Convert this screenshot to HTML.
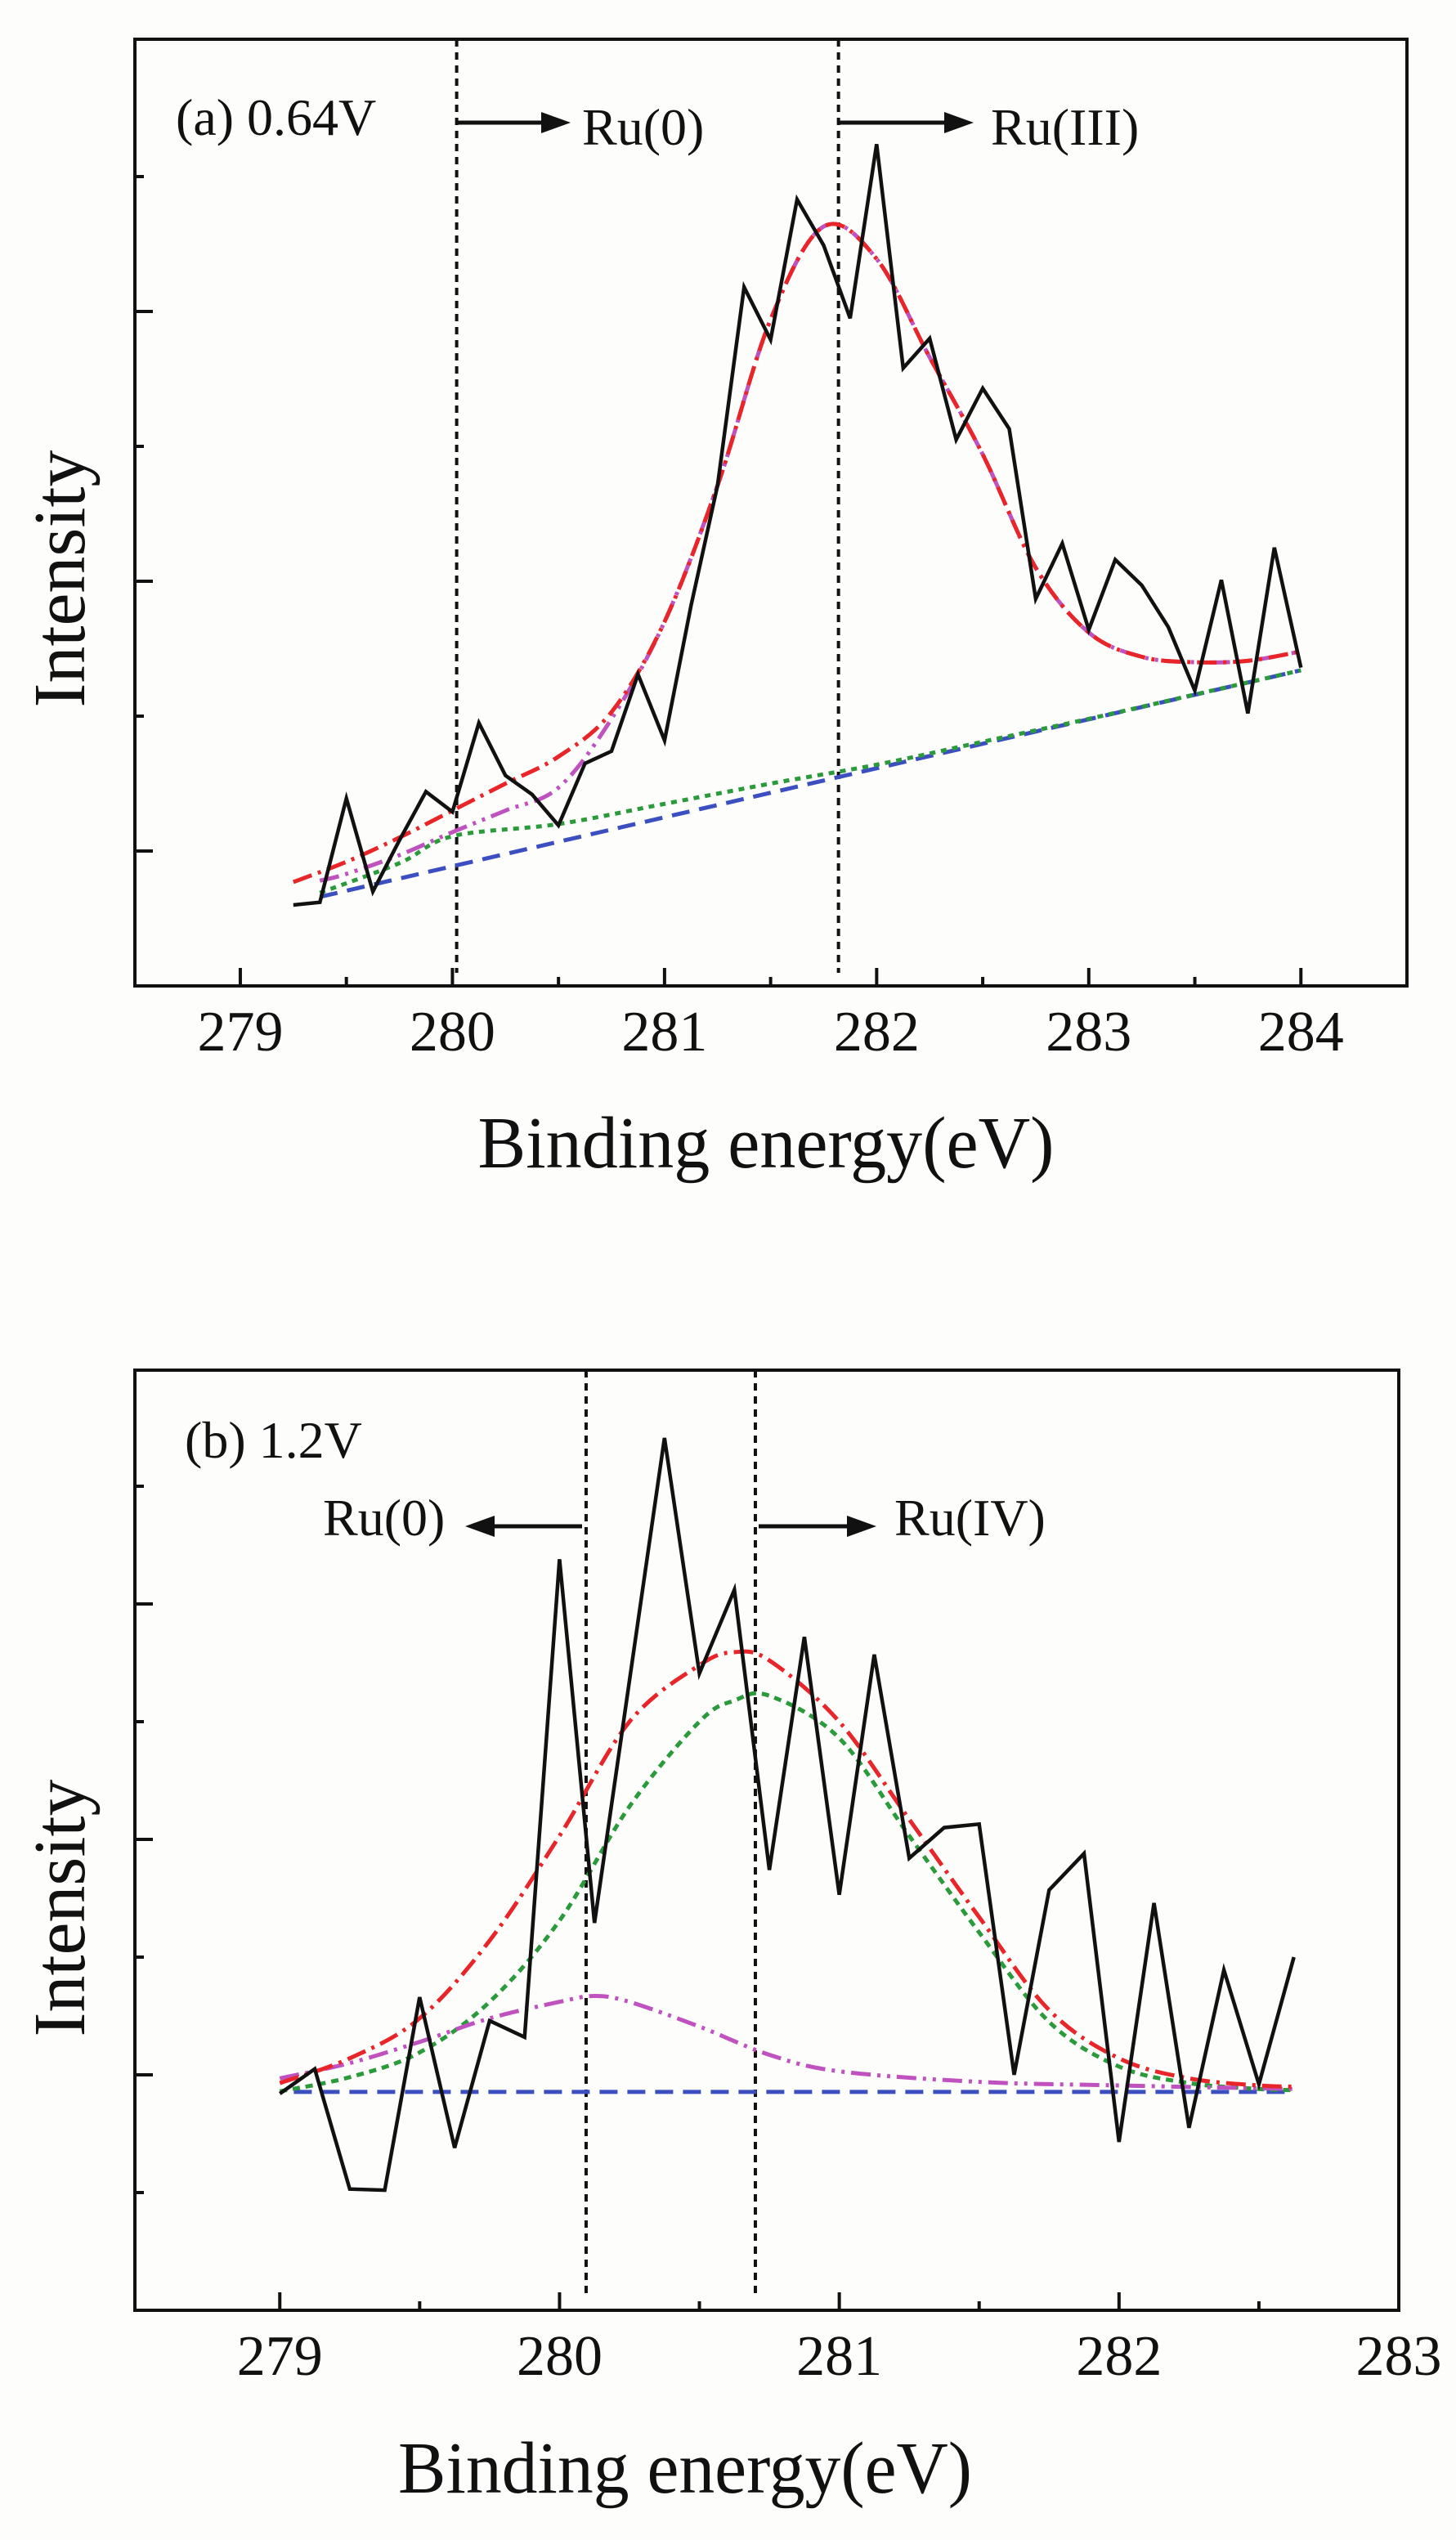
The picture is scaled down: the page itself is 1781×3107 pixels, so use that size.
<!DOCTYPE html>
<html><head><meta charset="utf-8"><style>
html,body{margin:0;padding:0;background:#fdfdfc;}
svg{display:block;font-family:"Liberation Serif",serif;}
</style></head><body>
<svg id="fig" width="1781" height="3107" viewBox="0 0 1781 3107" xmlns="http://www.w3.org/2000/svg"></svg>
<script>
// ---------- Panel (a) data ----------
const aX = [279.25,279.375,279.5,279.625,279.75,279.875,280,280.125,280.25,280.375,280.5,280.625,280.75,280.875,281,281.125,281.25,281.375,281.5,281.625,281.75,281.875,282,282.125,282.25,282.375,282.5,282.625,282.75,282.875,283,283.125,283.25,283.375,283.5,283.625,283.75,283.875,284];
const aRaw = [0.60,0.62,1.39,0.70,1.08,1.44,1.29,1.95,1.56,1.42,1.19,1.65,1.74,2.31,1.82,2.82,3.71,5.18,4.79,5.83,5.49,4.95,6.24,4.58,4.80,4.05,4.43,4.13,2.87,3.28,2.64,3.16,2.97,2.66,2.19,3.01,2.02,3.25,2.36];
const aFitX = [279.25,279.5,279.75,280,280.25,280.5,280.75,281,281.25,281.5,281.75,282,282.25,282.5,282.75,283,283.25,283.5,283.75,284];
const aEnvelope = [0.77,0.92,1.10,1.30,1.50,1.70,2.03,2.70,3.71,4.94,5.63,5.39,4.66,3.94,3.10,2.62,2.44,2.40,2.41,2.48];
const aRu3X = [279.375,279.5,279.75,280,280.25,280.5,280.75,281,281.25,281.5,281.75,282,282.25,282.5,282.75,283,283.25,283.5,283.75,284];
const aRu3 = [0.78,0.83,0.97,1.14,1.30,1.47,1.98,2.70,3.71,4.94,5.63,5.39,4.66,3.94,3.10,2.62,2.44,2.40,2.41,2.48];
const aRu0X = [279.375,279.75,280,280.5,281,281.5,282,282.5,283,283.5,284];
const aRu0 = [0.69,0.91,1.11,1.20,1.35,1.50,1.64,1.81,1.98,2.16,2.34];
const aBgX = [279.375,284];
const aBg = [0.66,2.34];
const aTicks = [279,280,281,282,283,284];

// ---------- Panel (b) data ----------
const bX = [279,279.125,279.25,279.375,279.5,279.625,279.75,279.875,280,280.125,280.25,280.375,280.5,280.625,280.75,280.875,281,281.125,281.25,281.375,281.5,281.625,281.75,281.875,282,282.125,282.25,282.375,282.5,282.625];
const bRaw = [1.84,2.05,1.03,1.02,2.66,1.38,2.46,2.32,6.38,3.29,5.35,7.41,5.41,6.12,3.74,5.72,3.53,5.57,3.84,4.10,4.13,2.00,3.57,3.88,1.43,3.46,1.55,2.89,1.92,3.00];
const bFitX = [279,279.25,279.5,279.75,280,280.25,280.5,280.625,280.75,281,281.25,281.5,281.75,282,282.25,282.5,282.625];
const bEnvelope = [1.93,2.14,2.48,3.14,4.03,5.00,5.48,5.59,5.52,5.00,4.17,3.34,2.55,2.14,1.97,1.91,1.90];
const bRu4 = [1.86,1.98,2.19,2.62,3.31,4.28,5.00,5.18,5.22,4.86,4.03,3.21,2.45,2.07,1.93,1.88,1.87];
const bRu0X = [279,279.25,279.5,279.75,280,280.125,280.25,280.5,280.75,281,281.5,282,282.625];
const bRu0 = [1.97,2.10,2.28,2.48,2.62,2.67,2.62,2.41,2.17,2.03,1.94,1.91,1.88];
const bBgX = [279.05,282.625];
const bBg = [1.855,1.855];
const bTicks = [279,280,281,282,283];

const NS = "http://www.w3.org/2000/svg";
const svg = document.getElementById('fig');
function mk(tag, attrs, parent){
  const e = document.createElementNS(NS, tag);
  for (const k in attrs) e.setAttribute(k, attrs[k]);
  (parent||svg).appendChild(e);
  return e;
}
function pathFrom(xs, ys, sx, sy){
  return xs.map((x,i)=>(i?'L':'M')+sx(x).toFixed(1)+','+sy(ys[i]).toFixed(1)).join(' ');
}
function smoothPath(xs, ys, sx, sy){
  const p = xs.map((x,i)=>[sx(x), sy(ys[i])]);
  let d = 'M'+p[0][0]+','+p[0][1];
  for (let i=0;i<p.length-1;i++){
    const p0=p[Math.max(0,i-1)], p1=p[i], p2=p[i+1], p3=p[Math.min(p.length-1,i+2)];
    const c1x=p1[0]+(p2[0]-p0[0])/6, c1y=p1[1]+(p2[1]-p0[1])/6;
    const c2x=p2[0]-(p3[0]-p1[0])/6, c2y=p2[1]-(p3[1]-p1[1])/6;
    d += ' C'+c1x.toFixed(1)+','+c1y.toFixed(1)+' '+c2x.toFixed(1)+','+c2y.toFixed(1)+' '+p2[0].toFixed(1)+','+p2[1].toFixed(1);
  }
  return d;
}

function panel(cfg){
  const g = mk('g', {});
  
  
  const L=165, R=cfg.right, T=cfg.top, B=cfg.bottom;
  const sx = v => L + (v - cfg.xmin) / (cfg.xmax - cfg.xmin) * (R - L);
  const sy = v => B - v * cfg.unit;

  const frame = mk('rect', {x:L, y:T, width:R-L, height:B-T, fill:'none', stroke:'#111', 'stroke-width':4}, g);
  
  

  cfg.ticks.forEach((t,i)=>{
    const tk = mk('line', {x1:sx(t), x2:sx(t), y1:B, y2:B-22, stroke:'#111', 'stroke-width':4}, g);
    
    
    if (i < cfg.ticks.length-1){
      const mt = mk('line', {x1:sx(t+0.5), x2:sx(t+0.5), y1:B, y2:B-11, stroke:'#111', 'stroke-width':4}, g);
      
      
    }
    const lb = mk('text', {x:sx(t), y:cfg.tickY, 'font-size':70, 'text-anchor':'middle', fill:'#111'}, g);
    lb.textContent = t;
    
    
  });
  for (let v=1; v*cfg.unit < (B-T)-5; v++){
    const long = (v % 2) === cfg.longParity;
    const yt = mk('line', {x1:L, x2:L+(long?22:11), y1:sy(v), y2:sy(v), stroke:'#111', 'stroke-width':4}, g);
    
    
  }
  cfg.markers.forEach(m=>{
    const vl = mk('line', {x1:sx(m), x2:sx(m), y1:T, y2:cfg.markerBottom, stroke:'#111', 'stroke-width':4, 'stroke-dasharray':'9,7'}, g);
    
    
  });
  const series = [
    {xs:cfg.bgX, ys:cfg.bg, c:'#3b4fc0', d:'22,12', n:'background-line', smooth:false},
    {xs:cfg.c1X, ys:cfg.c1, c:cfg.c1c, d:cfg.c1d, n:cfg.c1n, smooth:true},
    {xs:cfg.c2X, ys:cfg.c2, c:cfg.c2c, d:cfg.c2d, n:cfg.c2n, smooth:true},
    {xs:cfg.envX, ys:cfg.env, c:'#e8262a', d:'24,8,4,8', n:'envelope-fit', smooth:true},
  ];
  series.forEach(s=>{
    const p = mk('path', {d: s.smooth ? smoothPath(s.xs, s.ys, sx, sy) : pathFrom(s.xs, s.ys, sx, sy), fill:'none', stroke:s.c, 'stroke-width':5, 'stroke-dasharray':s.d}, g);
    
    
  });
  const raw = mk('path', {d: pathFrom(cfg.rawX, cfg.raw, sx, sy), fill:'none', stroke:'#111', 'stroke-width':4.5, 'stroke-linejoin':'miter'}, g);
  
  
  return {g, sx, sy};
}

function text(str, x, y, size, name, extra){
  const t = mk('text', Object.assign({x, y, 'font-size':size, fill:'#111'}, extra||{}));
  t.textContent = str;
  
  
  return t;
}
function arrow(x1, x2, y, name){
  const dir = Math.sign(x2-x1);
  const l = mk('line', {x1, x2:x2-dir*30, y1:y, y2:y, stroke:'#111', 'stroke-width':5});
  
  
  const h = mk('polygon', {points:`${x2},${y} ${x2-dir*36},${y-13} ${x2-dir*36},${y+13}`, fill:'#111'});
  
  
}

panel({name:'panel-a', right:1721, top:48, bottom:1206, xmin:278.503, xmax:284.5, unit:165, longParity:1,
  ticks:aTicks, tickY:1285, markers:[280.02,281.82], markerBottom:1190,
  rawX:aX, raw:aRaw, envX:aFitX, env:aEnvelope,
  c1X:aRu0X, c1:aRu0, c1c:'#2a9a3a', c1d:'7,7', c1n:'ru0-component',
  c2X:aRu3X, c2:aRu3, c2c:'#c052c0', c2d:'24,8,4,8,4,8', c2n:'ru3-component',
  bgX:aBgX, bg:aBg});
text('(a) 0.64V', 215, 165, 64, 'panel-a-label');
arrow(560, 698, 150, 'ru0-arrow-a');
text('Ru(0)', 712, 177, 64, 'ru0-label-a');
arrow(1027, 1191, 150, 'ru3-arrow');
text('Ru(III)', 1212, 177, 64, 'ru3-label');
text('Binding energy(eV)', 937, 1428, 90, 'x-axis-title-a', {'text-anchor':'middle', textLength:705, lengthAdjust:'spacingAndGlyphs'});
text('Intensity', 0, 0, 90, 'y-axis-title-a', {'text-anchor':'middle', transform:'translate(103,708) rotate(-90)'});

panel({name:'panel-b', right:1711, top:1676, bottom:2826, xmin:278.482, xmax:283, unit:144, longParity:0,
  ticks:bTicks, tickY:2905, markers:[280.095,280.70], markerBottom:2806,
  rawX:bX, raw:bRaw, envX:bFitX, env:bEnvelope,
  c1X:bFitX, c1:bRu4, c1c:'#2a9a3a', c1d:'9,7', c1n:'ru4-component',
  c2X:bRu0X, c2:bRu0, c2c:'#c052c0', c2d:'24,8,4,8,4,8', c2n:'ru0-component-b',
  bgX:bBgX, bg:bBg});
text('(b) 1.2V', 226, 1783, 64, 'panel-b-label');
arrow(712, 569, 1867, 'ru0-arrow-b');
text('Ru(0)', 395, 1878, 64, 'ru0-label-b');
arrow(928, 1072, 1867, 'ru4-arrow');
text('Ru(IV)', 1094, 1878, 64, 'ru4-label');
text('Binding energy(eV)', 838, 3049, 90, 'x-axis-title-b', {'text-anchor':'middle', textLength:702, lengthAdjust:'spacingAndGlyphs'});
text('Intensity', 0, 0, 90, 'y-axis-title-b', {'text-anchor':'middle', transform:'translate(103,2334) rotate(-90)'});
</script>
</body></html>
